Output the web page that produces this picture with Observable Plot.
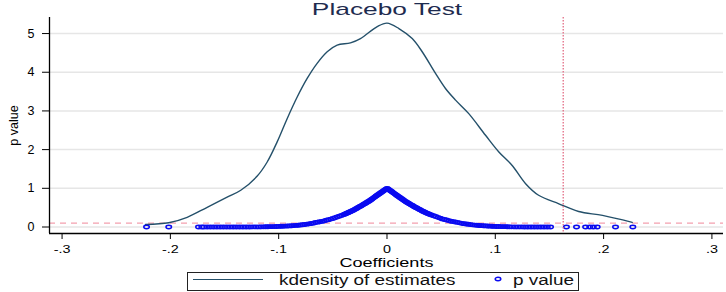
<!DOCTYPE html>
<html>
<head>
<meta charset="utf-8">
<script src="https://cdn.jsdelivr.net/npm/d3@7"></script>
<script src="https://cdn.jsdelivr.net/npm/@observablehq/plot@0.6"></script>
<style>
  body { margin: 0; background: #fff; }
  .f { font-family: "Liberation Sans", Arial, sans-serif; }
  #title { position: relative; width: 726px; height: 16px; }
  #title span { position: absolute; left: 387px; top: 1px; font-size: 17px; line-height: 17px; color: #1e2b4f; white-space: nowrap; transform: translateX(-50%) scaleX(1.55); }
  #legend { position: relative; width: 726px; height: 20px; }
  #legend .box { position: absolute; left: 187px; top: 0; width: 392px; height: 19px; box-sizing: border-box; border: 1px solid #222; }
  #legend .sw { position: absolute; left: 193px; top: 6.5px; width: 70px; height: 1.5px; background: #24506a; }
  #legend .t { position: absolute; top: 0.5px; font-size: 14px; line-height: 14px; color: #111; white-space: nowrap; transform-origin: 0 0; transform: scaleX(1.35); }
  #legend svg { position: absolute; left: 493px; top: 2px; }
</style>
</head>
<body>
<div id="title" class="f"><span>Placebo Test</span></div>
<div id="chart"></div>
<div id="legend" class="f">
  <div class="box"></div>
  <div class="sw"></div>
  <div class="t" style="left:279px">kdensity of estimates</div>
  <svg width="10" height="10"><ellipse cx="5" cy="5" rx="2.8" ry="1.7" fill="none" stroke="#0a0af0" stroke-width="1.5"></ellipse></svg>
  <div class="t" style="left:513px">p value</div>
</div>
<script>
// ---- data ----
const xTicks = [-0.3, -0.2, -0.1, 0, 0.1, 0.2, 0.3];
const xTickLabels = ["-.3", "-.2", "-.1", "0", ".1", ".2", ".3"];
const yTicks = [0, 1, 2, 3, 4, 5];
const yTickLabels = ["0", "1", "2", "3", "4", "5"];

// kernel density of the placebo estimates
const kdX = [-0.223, -0.2015, -0.1845, -0.166, -0.1476, -0.135, -0.120, -0.1106, -0.1014, -0.0922,
  -0.0829, -0.0737, -0.0645, -0.0552, -0.046, -0.0337, -0.0245, -0.009, 0.0, 0.011,
  0.0233, 0.0325, 0.0448, 0.054, 0.0633, 0.0755, 0.091, 0.1033, 0.1156, 0.128,
  0.140, 0.1587, 0.177, 0.199, 0.2264];
const kdY = [0.065, 0.11, 0.25, 0.51, 0.77, 0.95, 1.31, 1.68, 2.2, 2.80,
  3.36, 3.84, 4.23, 4.53, 4.70, 4.76, 4.87, 5.18, 5.27, 5.13,
  4.87, 4.53, 3.97, 3.58, 3.28, 2.93, 2.37, 1.94, 1.59, 1.12,
  0.82, 0.60, 0.40, 0.30, 0.12];

// placebo coefficients and their p values
const pCoef = [
  -0.222, -0.2015, -0.174, -0.171, -0.169, -0.166, -0.163, -0.160, -0.157, -0.154,
  -0.151, -0.148, -0.145, -0.142, -0.139, -0.136, -0.133, -0.130, -0.127, -0.124,
  -0.121, -0.118, -0.116, -0.114, -0.112, -0.110, -0.108, -0.106, -0.104, -0.102,
  -0.100, -0.098, -0.096, -0.094, -0.092, -0.090, -0.088, -0.086, -0.084, -0.082,
  -0.080, -0.078, -0.076, -0.074, -0.072, -0.070, -0.068, -0.066, -0.064, -0.062,
  -0.060, -0.058, -0.056, -0.054, -0.052, -0.050, -0.048, -0.046, -0.044, -0.042,
  -0.040, -0.039, -0.038, -0.037, -0.036, -0.035, -0.034, -0.033, -0.032, -0.031,
  -0.030, -0.029, -0.028, -0.027, -0.026, -0.025, -0.024, -0.023, -0.022, -0.021,
  -0.020, -0.019, -0.018, -0.017, -0.016, -0.015, -0.014, -0.013, -0.012, -0.011,
  -0.010, -0.009, -0.008, -0.007, -0.006, -0.005, -0.004, -0.003, -0.002, -0.001,
  0.000, 0.0005, 0.0015, 0.0025, 0.0035, 0.0045, 0.0055, 0.0065, 0.0075, 0.0085,
  0.0095, 0.0105, 0.0115, 0.0125, 0.0135, 0.0145, 0.0155, 0.0165, 0.0175, 0.0185,
  0.0195, 0.0205, 0.0215, 0.0225, 0.0235, 0.0245, 0.0255, 0.0265, 0.0275, 0.0285,
  0.0295, 0.0305, 0.0315, 0.0325, 0.0335, 0.0345, 0.0355, 0.0365, 0.0375, 0.0385,
  0.0395, 0.041, 0.043, 0.045, 0.047, 0.049, 0.051, 0.053, 0.055, 0.057,
  0.059, 0.061, 0.063, 0.065, 0.067, 0.069, 0.071, 0.073, 0.075, 0.077,
  0.079, 0.081, 0.083, 0.085, 0.087, 0.089, 0.091, 0.093, 0.095, 0.097,
  0.099, 0.101, 0.103, 0.105, 0.107, 0.109, 0.111, 0.113, 0.115, 0.118,
  0.121, 0.124, 0.127, 0.130, 0.133, 0.136, 0.139, 0.142, 0.145, 0.148,
  0.151, 0.1657, 0.175, 0.1834, 0.1872, 0.1905, 0.1941, 0.211, 0.227];
const pVal = [
  0, 0, 0, 0, 0, 0, 0, 0, 0, 0,
  0, 0, 0, 0, 0, 0.001, 0.001, 0.001, 0.001, 0.002,
  0.002, 0.003, 0.004, 0.005, 0.006, 0.007, 0.008, 0.010, 0.011, 0.013,
  0.015, 0.018, 0.020, 0.023, 0.026, 0.029, 0.033, 0.037, 0.041, 0.046,
  0.052, 0.058, 0.066, 0.074, 0.082, 0.090, 0.100, 0.115, 0.125, 0.135,
  0.145, 0.160, 0.175, 0.190, 0.205, 0.220, 0.240, 0.260, 0.280, 0.300,
  0.320, 0.330, 0.345, 0.355, 0.370, 0.380, 0.395, 0.410, 0.420, 0.435,
  0.450, 0.465, 0.480, 0.500, 0.515, 0.530, 0.545, 0.560, 0.580, 0.595,
  0.610, 0.630, 0.645, 0.660, 0.680, 0.700, 0.720, 0.740, 0.760, 0.780,
  0.800, 0.820, 0.840, 0.860, 0.880, 0.900, 0.920, 0.940, 0.960, 0.980,
  1.000, 0.990, 0.970, 0.950, 0.930, 0.910, 0.890, 0.870, 0.850, 0.830,
  0.810, 0.790, 0.770, 0.750, 0.730, 0.710, 0.690, 0.670, 0.655, 0.635,
  0.620, 0.600, 0.585, 0.570, 0.555, 0.535, 0.520, 0.505, 0.490, 0.475,
  0.460, 0.445, 0.430, 0.415, 0.400, 0.390, 0.375, 0.360, 0.350, 0.340,
  0.325, 0.310, 0.290, 0.270, 0.250, 0.230, 0.210, 0.195, 0.180, 0.165,
  0.150, 0.140, 0.130, 0.120, 0.108, 0.095, 0.086, 0.078, 0.070, 0.062,
  0.055, 0.049, 0.044, 0.039, 0.035, 0.031, 0.028, 0.025, 0.022, 0.019,
  0.016, 0.014, 0.012, 0.010, 0.009, 0.008, 0.006, 0.005, 0.004, 0.003,
  0.002, 0.002, 0.001, 0.001, 0.001, 0, 0, 0, 0, 0,
  0, 0, 0, 0, 0, 0, 0, 0, 0];

const pThreshold = 0.1;     // horizontal dashed reference line
const actualCoef = 0.1627;  // vertical dotted line (true estimate)
const xDom = [-0.3116, 0.3107];
const yDom = [-0.168, 5.415];

const fontFam = "'Liberation Sans', Arial, sans-serif";
const lineColor = "#24506a";
const dotColor = "#0a0af0";

// hollow marker, wider than tall like the reference's circles
const flatCircle = {
  draw(context, size) {
    const r = Math.sqrt(size / Math.PI);
    const rx = r * 1.15, ry = r * 0.7, k = 0.5523;
    context.moveTo(rx, 0);
    context.bezierCurveTo(rx, ry * k, rx * k, ry, 0, ry);
    context.bezierCurveTo(-rx * k, ry, -rx, ry * k, -rx, 0);
    context.bezierCurveTo(-rx, -ry * k, -rx * k, -ry, 0, -ry);
    context.bezierCurveTo(rx * k, -ry, rx, -ry * k, rx, 0);
    context.closePath();
  }
};

const chart = Plot.plot({
  width: 726,
  height: 256,
  marginLeft: 49,
  marginRight: 3,
  marginTop: 1,
  marginBottom: 39,
  style: { fontFamily: fontFam, fontSize: "12px", color: "#000", background: "#fff", overflow: "visible" },
  x: {
    domain: xDom, ticks: xTicks,
    tickFormat: d => xTickLabels[xTicks.findIndex(t => Math.abs(t - d) < 1e-9)],
    tickSize: 6, tickPadding: 5,
    label: "Coefficients", labelAnchor: "center", labelOffset: 33.5, labelArrow: "none"
  },
  y: {
    domain: yDom, ticks: yTicks,
    tickFormat: d => yTickLabels[yTicks.indexOf(d)],
    tickSize: 7, tickPadding: 8,
    label: "p value", labelAnchor: "center", labelOffset: 40, labelArrow: "none"
  },
  marks: [
    Plot.ruleY(yTicks, { stroke: "#e6e6e6", strokeWidth: 1.5 }),
    Plot.ruleY([pThreshold], { stroke: "#f4a0ae", strokeWidth: 1.2, strokeDasharray: "6,5" }),
    Plot.line(kdX, { x: d => d, y: (d, i) => kdY[i], curve: "catmull-rom", stroke: lineColor, strokeWidth: 1.4 }),
    Plot.dot(pCoef, { x: d => d, y: (d, i) => pVal[i], r: 2.4, symbol: flatCircle, stroke: dotColor, strokeWidth: 1.5, fill: "none" }),
    Plot.ruleX([actualCoef], { stroke: "#e0607a", strokeWidth: 1.2, strokeDasharray: "1.5,1.5" }),
    Plot.ruleX([xDom[0]], { stroke: "#000", strokeWidth: 1.3 }),
    Plot.ruleY([yDom[0]], { stroke: "#000", strokeWidth: 1.3 })
  ]
});
document.getElementById("chart").appendChild(chart);

// horizontal stretch of SVG texts to match the reference's glyph proportions
function stretch(sel, s) {
  chart.querySelectorAll(sel).forEach(t => {
    const b = t.getBBox();
    const anchor = getComputedStyle(t).textAnchor;
    const ax = anchor === "middle" ? b.x + b.width / 2 : anchor === "end" ? b.x + b.width : b.x;
    const tr = t.getAttribute("transform") || "";
    t.setAttribute("transform", `${tr} translate(${ax},0) scale(${s},1) translate(${-ax},0)`);
  });
}
chart.querySelectorAll('g[aria-label="x-axis label"] text').forEach(t => t.style.fontSize = "13px");
chart.querySelectorAll('g[aria-label="x-axis tick label"] text').forEach(t => t.style.fontSize = "11.5px");
chart.querySelectorAll('g[aria-label="y-axis tick label"] text').forEach(t => t.style.fontSize = "12.5px");
chart.querySelectorAll('g[aria-label="y-axis label"] text').forEach(t => t.style.fontSize = "12.5px");
stretch('g[aria-label="x-axis tick label"] text', 1.25);
stretch('g[aria-label="x-axis label"] text', 1.39);
</script>
</body>
</html>
